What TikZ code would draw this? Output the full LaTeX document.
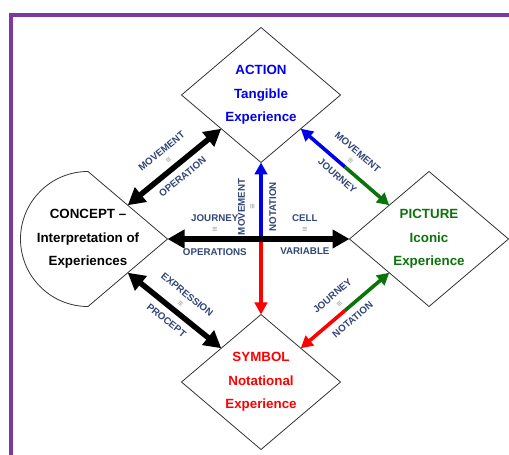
\documentclass[tikz,border=0pt]{standalone}
\usepackage{fontspec}
\setmainfont{Liberation Sans}
\newfontfamily\symfont{DejaVu Sans}
\usetikzlibrary{shapes.geometric,arrows.meta,calc}
\definecolor{actblue}{RGB}{0,0,235}
\definecolor{picgreen}{RGB}{10,115,10}
\definecolor{symred}{RGB}{255,0,0}
\definecolor{lblblue}{RGB}{50,70,120}
\definecolor{framepurple}{RGB}{122,58,160}
\newcommand{\idsign}{{\symfont\fontsize{7}{7}\selectfont\color{gray!65}≡}}
\tikzset{
  modetext/.style={align=center, font=\bfseries\fontsize{13.4}{23.5}\selectfont},
  mode/.style={modetext, shape=diamond, draw=black!80, line width=0.8bp, inner sep=0pt, outer sep=0pt,
    minimum width=159bp, minimum height=135bp},
  link/.style={line width=5.5bp, black, {Triangle[length=17bp,width=18bp]}-{Triangle[length=17bp,width=18bp]}},
  half/.style={line width=3.6bp, -{Triangle[length=12bp,width=12.5bp]}},
  lbl/.style={inner xsep=0pt, text=lblblue, align=center, font=\bfseries\fontsize{9.8}{9.8}\selectfont},
  lbltop/.style={lbl, anchor=south, inner ysep=4.5bp},
  lblbot/.style={lbl, anchor=north, inner ysep=6.5bp},
}
\begin{document}
\begin{tikzpicture}[x=1bp,y=1bp]
  \useasboundingbox (0,0) rectangle (509,455);
  \draw[line width=4bp, framepurple] (11,-5) -- (11,440) -- (515,440);

  \node[mode, text=actblue] (act) at (261,360) {ACTION\\Tangible\\Experience};
  \node[mode, text=picgreen] (pic) at (429,216) {PICTURE\\Iconic\\Experience};
  \node[mode, text=symred] (sym) at (261,73) {SYMBOL\\Notational\\Experience};
  \node[mode, draw=none] (con) at (88,216) {};
  \node[modetext] (contxt) at (con.center) {CONCEPT \textendash\\Interpretation of\\Experiences};
  \draw[black!80, line width=0.8bp] (con.north) -- (con.east) -- (con.south)
    arc[start angle=-90, end angle=-270, radius=67.5];

  \coordinate (mid) at (act.south |- con.east);
  \coordinate (ac1) at ($(act.west)!.5!(act.south)$);
  \coordinate (ac2) at ($(con.north)!.5!(con.east)$);
  \coordinate (ap1) at ($(act.east)!.5!(act.south)$);
  \coordinate (ap2) at ($(pic.west)!.5!(pic.north)$);
  \coordinate (cs1) at ($(con.south)!.5!(con.east)$);
  \coordinate (cs2) at ($(sym.west)!.5!(sym.north)$);
  \coordinate (ps1) at ($(pic.west)!.5!(pic.south)$);
  \coordinate (ps2) at ($(sym.east)!.5!(sym.north)$);
  \coordinate (apm) at ($(ap1)!.5!(ap2)$);
  \coordinate (psm) at ($(ps1)!.5!(ps2)$);

  \draw[half, actblue] (mid) -- node[lbltop, sloped, pos=.42] (v1) {MOVEMENT\\\idsign}
    node[lblbot, sloped, pos=.42] (v2) {NOTATION} (act.south);
  \draw[half, symred] (mid) -- (sym.north);
  \draw[link] (con.east) -- node[lbltop, pos=.26] (h1) {JOURNEY\\\idsign}
    node[lblbot, pos=.26] (h2) {OPERATIONS}
    node[lbltop, pos=.755] (h3) {CELL\\\idsign}
    node[lblbot, pos=.755] (h4) {VARIABLE} (pic.west);

  \draw[link] (ac2) -- node[lbltop, sloped] (d1) {MOVEMENT\\\idsign}
    node[lblbot, sloped] (d2) {OPERATION} (ac1);
  \draw[link] (cs1) -- node[lbltop, sloped] (d3) {EXPRESSION\\\idsign}
    node[lblbot, sloped] (d4) {PROCEPT} (cs2);

  \draw[half, actblue] (apm) -- (ap1);
  \draw[half, picgreen] (apm) -- node[lbltop, sloped, pos=0] (d5) {MOVEMENT\\\idsign}
    node[lblbot, sloped, pos=0] (d6) {JOURNEY} (ap2);
  \draw[half, symred] (psm) -- (ps2);
  \draw[half, picgreen] (psm) -- node[lbltop, sloped, pos=0] (d7) {JOURNEY\\\idsign}
    node[lblbot, sloped, pos=0] (d8) {NOTATION} (ps1);
\end{tikzpicture}
\end{document}
